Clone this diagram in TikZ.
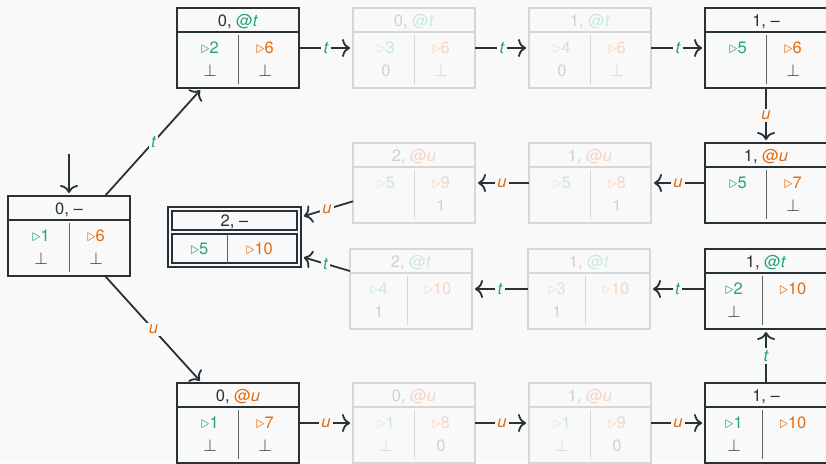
\documentclass[tikz,border=0pt]{standalone}
\usepackage{fontspec}
\setmainfont{TeX Gyre Heros}
\usetikzlibrary{arrows.meta}

% Colores
\definecolor{fondo}{HTML}{F9F9F9}
\definecolor{oscuro}{HTML}{263238}
\definecolor{verdeactivo}{HTML}{22A578}
\definecolor{naranjaactivo}{HTML}{E36C0E}
\definecolor{textoactivo}{HTML}{263238}
\definecolor{bordeactivo}{HTML}{263238}
\definecolor{divisoractivo}{HTML}{5A6468}
\definecolor{verdetenue}{HTML}{C9E9DB}
\definecolor{naranjatenue}{HTML}{F7D5BF}
\definecolor{textotenue}{HTML}{CFD2D1}
\definecolor{bordetenue}{HTML}{D6D8D7}
\definecolor{divisortenue}{HTML}{D6D8D7}

\newcommand{\trg}{$\triangleright$}
\newcommand{\nada}{$\bot$}
\newcommand{\At}{{\color{cv}@\textit{t}}}
\newcommand{\Au}{{\color{cn}@\textit{u}}}

% Estado: [desplazamiento del divisor]{nombre}{modo}{centro}{cabecera}{a}{b}{c}{d}
\newcommand{\estado}[9][0]{%
  \colorlet{cv}{verde#3}\colorlet{cn}{naranja#3}\colorlet{ct}{texto#3}%
  \node[caja, draw=borde#3] (#2) at (#4) {};
  \draw[borde#3, line width=1.8pt] ([shift={(0,24)}]#2.north west) -- ([shift={(0,24)}]#2.north east);
  \draw[divisor#3, line width=0.9pt] ([shift={(#1,27)}]#2.north) -- ([shift={(#1,-4)}]#2.south);
  \node[texto, text=ct] (#2h) at ([shift={(0,18)}]#2.north) {#5};
  \node[texto, text=cv] (#2a) at ([shift={(#1-28,45)}]#2.north) {\trg#6};
  \node[texto, text=cn] (#2b) at ([shift={(27,45)}]#2.north) {\trg#7};
  \node[texto, text=ct] (#2c) at ([shift={(#1-28,68)}]#2.north) {#8};
  \node[texto, text=ct] (#2d) at ([shift={(27,68)}]#2.north) {#9};
}

\begin{document}
\begin{tikzpicture}[x=1pt,y=-1pt,>={Computer Modern Rightarrow[length=8pt,width=18pt]},
    caja/.style={rectangle, line width=1.8pt, minimum width=122pt, minimum height=80pt, inner sep=0pt, outer sep=0pt},
    texto/.style={anchor=base, inner sep=0pt, font=\fontsize{16.5}{20}\selectfont},
    flecha/.style={->, oscuro, line width=1.8pt, shorten >=3pt},
    lt/.style={fill=fondo, inner sep=2.5pt, text=verdeactivo, font=\fontsize{16.5}{20}\selectfont\itshape},
    lu/.style={lt, text=naranjaactivo}]
    % Fondo
    \fill[fondo] (0,0) rectangle (826,463);
    \useasboundingbox (0,0) rectangle (826,463);

    % Estados
    \estado{inicio}{activo}{69,236}{0, --}{1}{6}{\nada}{\nada}
    \estado{a1}{activo}{238,48}{0, \At}{2}{6}{\nada}{\nada}
    \estado{a2}{tenue}{414,48}{0, \At}{3}{6}{0}{\nada}
    \estado{a3}{tenue}{590,48}{1, \At}{4}{6}{0}{\nada}
    \estado{a4}{activo}{766,48}{1, --}{5}{6}{}{\nada}
    \estado{b1}{activo}{766,183}{1, \Au}{5}{7}{}{\nada}
    \estado{b2}{tenue}{590,183}{1, \Au}{5}{8}{}{1}
    \estado{b3}{tenue}{414,183}{2, \Au}{5}{9}{}{1}
    \estado[-4]{c1}{activo}{766,289}{1, \At}{2}{10}{\nada}{}
    \estado[-4]{c2}{tenue}{589,289}{1, \At}{3}{10}{1}{}
    \estado[-4]{c3}{tenue}{411,289}{2, \At}{4}{10}{1}{}
    \estado{d1}{activo}{238,423}{0, \Au}{1}{7}{\nada}{\nada}
    \estado{d2}{tenue}{414,423}{0, \Au}{1}{8}{\nada}{0}
    \estado{d3}{tenue}{590,423}{1, \Au}{1}{9}{\nada}{0}
    \estado[-4]{d4}{activo}{766,423}{1, --}{1}{10}{\nada}{}

    % Estado final (doble borde)
    \node[caja, draw=oscuro, minimum width=133pt, minimum height=60pt] (fin) at (234.5,237) {};
    \draw[oscuro, line width=1.8pt] ([shift={(4,4)}]fin.north west) rectangle ([shift={(-4,23)}]fin.north east);
    \draw[oscuro, line width=1.8pt] ([shift={(4,27)}]fin.north west) rectangle ([shift={(-4,-4)}]fin.south east);
    \draw[divisoractivo, line width=0.9pt] ([shift={(-7,27)}]fin.north) -- ([shift={(-7,-4)}]fin.south);
    \node[texto, text=oscuro] (finh) at ([shift={(0,19)}]fin.north) {2, --};
    \node[texto, text=verdeactivo] (fina) at ([shift={(-35,47)}]fin.north) {\trg5};
    \node[texto, text=naranjaactivo] (finb) at ([shift={(25,47)}]fin.north) {\trg10};

    % Transiciones
    \coordinate (ini) at (69,154);
    \draw[flecha] (ini) -- (inicio);
    \draw[flecha] (inicio) -- node[lt] (e1) {t} (a1);
    \draw[flecha] (inicio) -- node[lu] (e2) {u} (d1);
    \draw[flecha] (a1) -- node[lt] (e3) {t} (a2);
    \draw[flecha] (a2) -- node[lt] (e4) {t} (a3);
    \draw[flecha] (a3) -- node[lt] (e5) {t} (a4);
    \draw[flecha] (a4) -- node[lu] (e6) {u} (b1);
    \draw[flecha] (b1) -- node[lu] (e7) {u} (b2);
    \draw[flecha] (b2) -- node[lu] (e8) {u} (b3);
    \draw[flecha] (b3) -- node[lu] (e9) {u} (fin);
    \draw[flecha] (d1) -- node[lu] (e10) {u} (d2);
    \draw[flecha] (d2) -- node[lu] (e11) {u} (d3);
    \draw[flecha] (d3) -- node[lu] (e12) {u} (d4);
    \draw[flecha] (d4) -- node[lt] (e13) {t} (c1);
    \draw[flecha] (c1) -- node[lt] (e14) {t} (c2);
    \draw[flecha] (c2) -- node[lt] (e15) {t} (c3);
    \draw[flecha] (c3) -- node[lt] (e16) {t} (fin);
\end{tikzpicture}
\end{document}
